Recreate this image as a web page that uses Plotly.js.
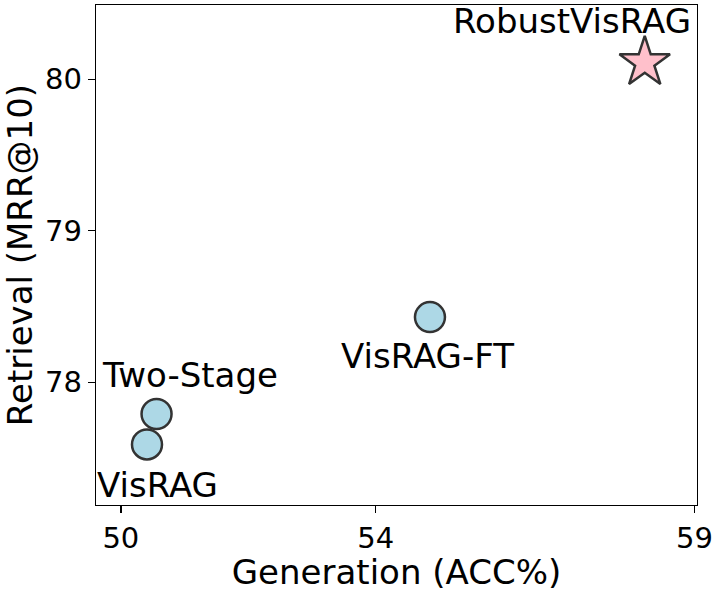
<!DOCTYPE html>
<html>
<head>
<meta charset="utf-8">
<script src="https://cdn.plot.ly/plotly-3.0.1.min.js"></script>
<style>html,body{margin:0;padding:0;background:#fff;}#chart{width:718px;height:592px;}</style>
</head>
<body>
<div id="chart"></div>
<script>
const methods = ["VisRAG", "Two-Stage", "VisRAG-FT", "RobustVisRAG"];
const generation = [50.41, 50.56, 54.85, 58.22];
const retrieval = [77.59, 77.79, 78.43, 80.11];
const xTicks = [50, 54, 59];
const yTicks = [78, 79, 80];

const baseIdx = [0, 1, 2];
const starIdx = [3];
// label offsets in pixels (xshift, yshift)
const labelShift = [[11, -41], [33, 39], [-2, -39], [-73, 42]];

const traces = [
  {
    type: "scatter", mode: "markers",
    x: baseIdx.map(i => generation[i]), y: baseIdx.map(i => retrieval[i]),
    marker: {symbol: "circle", size: 30, color: "#add8e6", line: {color: "#333333", width: 2.5}},
    hoverinfo: "skip", showlegend: false
  },
  {
    type: "scatter", mode: "markers",
    x: starIdx.map(i => generation[i]), y: starIdx.map(i => retrieval[i]),
    marker: {symbol: "star", size: 38, color: "#ffc0cb", line: {color: "#333333", width: 2.5}},
    hoverinfo: "skip", showlegend: false
  }
];

const annotations = methods.map((m, i) => ({
  x: generation[i], y: retrieval[i], xref: "x", yref: "y",
  text: m, showarrow: false, xanchor: "center", yanchor: "middle",
  xshift: labelShift[i][0], yshift: labelShift[i][1],
  font: {family: "DejaVu Sans", size: 34, color: "#000"}
}));

const layout = {
  width: 718, height: 592,
  margin: {l: 96, r: 21, t: 5, b: 87},
  paper_bgcolor: "#fff", plot_bgcolor: "#fff",
  font: {family: "DejaVu Sans", color: "#000"},
  xaxis: {
    range: [49.61, 59.04], tickvals: xTicks, ticktext: xTicks.map(String),
    showgrid: false, zeroline: false, showline: true, mirror: true,
    linecolor: "#000", linewidth: 1.3, ticks: "outside", ticklen: 7, tickwidth: 1.3, tickcolor: "#000",
    tickfont: {family: "DejaVu Sans", size: 29, color: "#000"},
    title: {text: "Generation (ACC%)", font: {family: "DejaVu Sans", size: 34, color: "#000"}, standoff: 4}
  },
  yaxis: {
    range: [77.19, 80.49], tickvals: yTicks, ticktext: yTicks.map(String),
    showgrid: false, zeroline: false, showline: true, mirror: true,
    linecolor: "#000", linewidth: 1.3, ticks: "outside", ticklen: 7, tickwidth: 1.3, tickcolor: "#000",
    tickfont: {family: "DejaVu Sans", size: 29, color: "#000"},
    title: {text: "Retrieval (MRR@10)", font: {family: "DejaVu Sans", size: 34, color: "#000"}, standoff: 8}
  },
  annotations: annotations
};

Plotly.newPlot("chart", traces, layout, {displayModeBar: false, staticPlot: true});
</script>
</body>
</html>
